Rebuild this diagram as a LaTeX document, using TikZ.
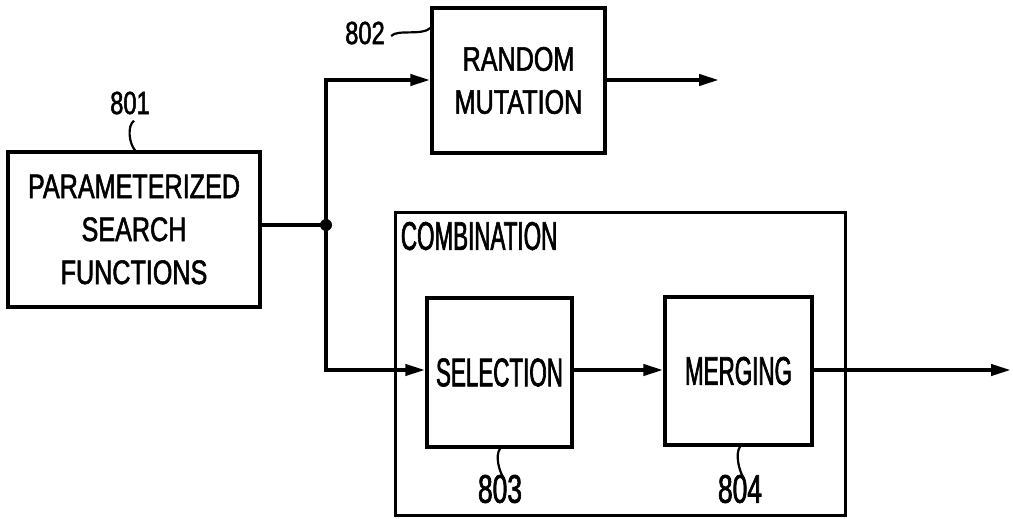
\documentclass[tikz,border=0pt]{standalone}
\usepackage{fontspec}
\setmainfont{Liberation Sans}
\newfontfamily\narrowA{Liberation Sans}[FakeStretch=0.74,FakeBold=1.6]
\newfontfamily\narrowB{Liberation Sans}[FakeStretch=0.56,FakeBold=1.6]
\newfontfamily\narrowN{Liberation Sans}[FakeStretch=0.66,FakeBold=1.6]
\usetikzlibrary{arrows.meta}

\tikzset{
  blockbox/.style={draw,line width=1.7pt,inner sep=0pt,align=center},
  textA/.style={font=\fontsize{17}{21.5}\narrowA},
  textB/.style={font=\fontsize{20}{24}\narrowB},
  reflabel/.style={inner sep=0pt},
  wire/.style={line width=2pt},
  flow/.style={wire,-{Triangle[length=10pt,width=5.5pt]}},
  squig/.style={line width=1.1pt}
}

\begin{document}
\begin{tikzpicture}[x=0.5pt,y=-0.5pt]
\useasboundingbox (0,0) rectangle (1013,519);

% blocks
\node[blockbox,textA,minimum width=126pt,minimum height=77.5pt] (param) at (134,229.5)
  {PARAMETERIZED\\SEARCH\\FUNCTIONS};
\node[blockbox,textA,minimum width=86.5pt,minimum height=72.5pt] (mutation) at (518.5,80.5)
  {RANDOM\\MUTATION};
\node[blockbox,line width=1.5pt,minimum width=225pt,minimum height=151pt] (combination) at (620,364) {};
\node[reflabel,textB,anchor=north west] (combtitle) at ([xshift=3.5pt,yshift=-5pt]combination.north west) {COMBINATION};
\node[blockbox,textB,minimum width=72.5pt,minimum height=74.5pt] (selection) at (499.5,372.5) {SELECTION};
\node[blockbox,textB,minimum width=73.5pt,minimum height=74pt] (merging) at (738.5,371) {MERGING};

% reference numerals
\node[reflabel,font=\fontsize{16}{20}\narrowA] (l801) at (130,103) {801};
\node[reflabel,font=\fontsize{16}{20}\narrowA] (l802) at (365,33) {802};
\node[reflabel,font=\fontsize{20}{24}\narrowN] (l803) at (500,489) {803};
\node[reflabel,font=\fontsize{20}{24}\narrowN] (l804) at (740,489) {804};

\coordinate (junc) at (326,225);
\coordinate (mutout) at (719,80);
\coordinate (combout) at (1011,370);

% connectors
\draw[wire] (param.east |- junc) -- (junc);
\fill (junc) circle (3pt);
\draw[flow] (junc) |- (mutation.west |- 0,80);
\draw[flow] (junc) |- (selection.west |- 0,370);
\draw[flow] (selection.east |- 0,370) -- (merging.west |- 0,370);
\draw[flow] (mutation.east |- 0,80) -- (mutout);
\draw[flow] (merging.east |- combout) -- (combout);

% leader squiggles
\draw[squig] (l801.south) ++(4,6) .. controls +(-7,5) and +(-6,-7) .. (param.north -| 135,0);
\draw[squig] (l802.east) ++(6,3) .. controls +(6,-7) and +(-8,8) .. (mutation.north west |- 0,28);
\draw[squig] (selection.south -| 500,0) .. controls +(-5,7) and +(-5,-7) .. ([xshift=2pt,yshift=-2pt]l803.north -| 500,0);
\draw[squig] (merging.south -| 740,0) .. controls +(-5,7) and +(-5,-7) .. ([xshift=2pt,yshift=-2pt]l804.north -| 740,0);
\end{tikzpicture}
\end{document}
